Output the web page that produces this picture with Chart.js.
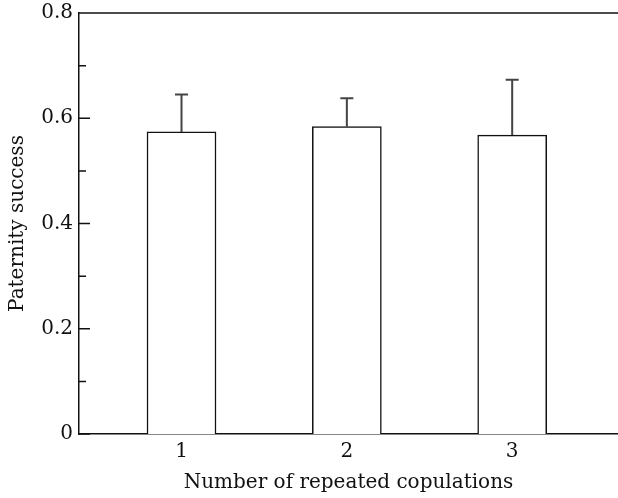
<!DOCTYPE html>
<html lang="en">
<head>
  <meta charset="UTF-8">
  <title>Paternity success</title>
  <script src="https://cdn.jsdelivr.net/npm/chart.js"></script>
  <style>
    body { margin: 0; background: #fff; }
  </style>
</head>
<body>
  <canvas id="myChart" width="618" height="498"></canvas>

  <script>
    // data
    const categories = [1, 2, 3];
    const means = [0.574, 0.584, 0.568];
    const errors = [0.071, 0.054, 0.105];   // upper error (SE)
    const yMajor = [0, 0.2, 0.4, 0.6, 0.8];
    const yMinor = [0.1, 0.3, 0.5, 0.7];
    const yLabels = ['0', '0.2', '0.4', '0.6', '0.8'];

    const serif = "'DejaVu Serif', 'Liberation Serif', serif";

    // error bars, top frame line and inward ticks
    const extras = {
      id: 'extras',
      afterDatasetsDraw(chart) {
        const ctx = chart.ctx;
        const x = chart.scales.x, y = chart.scales.y;
        ctx.save();
        ctx.strokeStyle = '#444';
        ctx.lineWidth = 2;
        categories.forEach((c, i) => {
          const px = x.getPixelForValue(c);
          const y0 = y.getPixelForValue(means[i]);
          const y1 = y.getPixelForValue(means[i] + errors[i]);
          ctx.beginPath();
          ctx.moveTo(px, y0);
          ctx.lineTo(px, y1);
          ctx.moveTo(px - 6.5, y1);
          ctx.lineTo(px + 6.5, y1);
          ctx.stroke();
        });
        ctx.restore();
      },
      afterDraw(chart) {
        const ctx = chart.ctx;
        const area = chart.chartArea;
        const y = chart.scales.y;
        ctx.save();
        ctx.strokeStyle = '#111';
        ctx.lineWidth = 1.5;
        ctx.beginPath();
        ctx.moveTo(area.left, area.top);
        ctx.lineTo(chart.width, area.top);
        yMajor.forEach(v => {
          const py = y.getPixelForValue(v);
          ctx.moveTo(area.left, py);
          ctx.lineTo(area.left + 11, py);
        });
        yMinor.forEach(v => {
          const py = y.getPixelForValue(v);
          ctx.moveTo(area.left, py);
          ctx.lineTo(area.left + 7, py);
        });
        ctx.stroke();
        ctx.restore();
      }
    };

    const ctx = document.getElementById('myChart').getContext('2d');
    const myChart = new Chart(ctx, {
      type: 'bar',
      data: {
        datasets: [{
          data: categories.map((c, i) => ({ x: c, y: means[i] })),
          backgroundColor: '#fff',
          borderColor: '#111',
          borderWidth: 1.5,
          barThickness: 69
        }]
      },
      options: {
        responsive: false,
        animation: false,
        devicePixelRatio: 1,
        layout: { padding: { top: 13, right: 0, left: 0, bottom: 0 } },
        plugins: { legend: { display: false }, tooltip: { enabled: false } },
        scales: {
          x: {
            type: 'linear',
            min: 0.38,
            max: 3.64,
            offset: false,
            grid: { display: false, drawTicks: false, offset: false },
            border: { display: true, color: '#111', width: 1.5 },
            afterBuildTicks: s => { s.ticks = categories.map(v => ({ value: v })); },
            afterFit: s => { s.height = 64; s.paddingLeft = 0; s.paddingRight = 0; },
            ticks: {
              color: '#111',
              font: { family: serif, size: 20 },
              padding: 6,
              maxRotation: 0,
              callback: v => String(v)
            },
            title: {
              display: true,
              text: 'Number of repeated copulations',
              color: '#111',
              font: { family: serif, size: 20 },
              padding: { top: 0, bottom: 3 }
            }
          },
          y: {
            min: 0,
            max: 0.8,
            grid: { display: false, drawTicks: false },
            border: { display: true, color: '#111', width: 1.5 },
            afterBuildTicks: s => { s.ticks = yMajor.map(v => ({ value: v })); },
            afterFit: s => { s.width = 79; s.paddingTop = 0; s.paddingBottom = 0; },
            ticks: {
              color: '#111',
              font: { family: serif, size: 20 },
              padding: 6,
              callback: (v, i) => yLabels[i]
            },
            title: {
              display: true,
              text: 'Paternity success',
              color: '#111',
              font: { family: serif, size: 20 },
              padding: { top: 6, bottom: 0 }
            }
          }
        }
      },
      plugins: [extras]
    });
  </script>
</body>
</html>
